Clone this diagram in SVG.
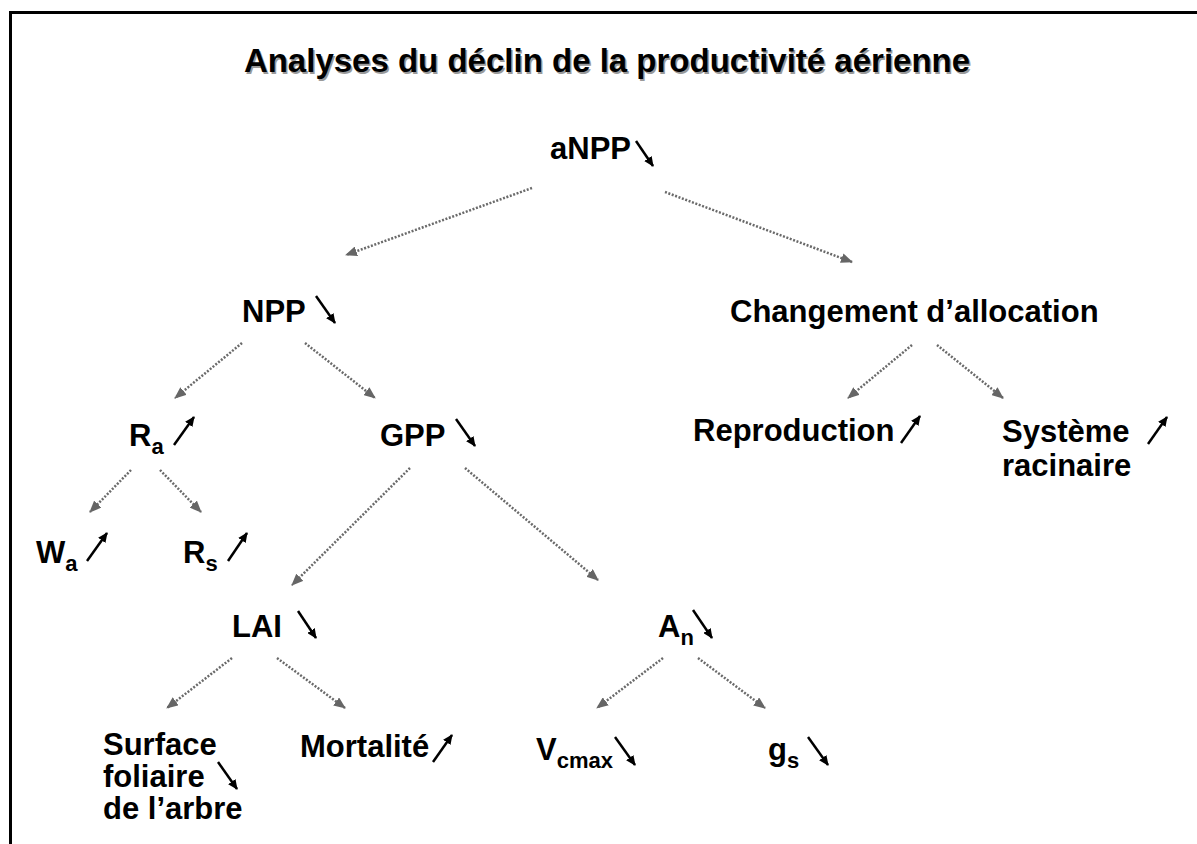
<svg xmlns="http://www.w3.org/2000/svg" width="1197" height="844" viewBox="0 0 1197 844">
<defs>
<marker id="gh" markerUnits="userSpaceOnUse" markerWidth="12" markerHeight="10" refX="11" refY="5" orient="auto">
<path d="M0,0 L12,5 L0,10 z" fill="#666"/>
</marker>
<marker id="bh" markerUnits="userSpaceOnUse" markerWidth="10" markerHeight="9" refX="9" refY="4.5" orient="auto">
<path d="M0,0 L10,4.5 L0,9 z" fill="#000"/>
</marker>
<style>
text{font-family:"Liberation Sans",Arial,sans-serif;font-weight:bold;fill:#000}
.t{font-size:33px}
.sh{fill:#9a9a9a}
.n{font-size:31px}
.s{font-size:22px}
.c{stroke:#6a6a6a;stroke-width:2.5;stroke-dasharray:2 1.6;fill:none;marker-end:url(#gh)}
.a{stroke:#000;stroke-width:2.5;fill:none;marker-end:url(#bh)}
</style>
</defs>
<rect width="1197" height="844" fill="#fff"/>
<path d="M10.5,844 V12.5 H1197" fill="none" stroke="#000" stroke-width="3"/>
<g id="title">
<text class="t sh" x="608.5" y="73.5" text-anchor="middle">Analyses du déclin de la productivité aérienne</text>
<text class="t" x="607" y="72" text-anchor="middle">Analyses du déclin de la productivité aérienne</text>
</g>
<g id="connectors">
<line class="c" x1="532" y1="188" x2="346" y2="255"/>
<line class="c" x1="665" y1="192" x2="852" y2="262"/>
<line class="c" x1="242" y1="343" x2="175" y2="398"/>
<line class="c" x1="305" y1="343" x2="375" y2="398"/>
<line class="c" x1="912" y1="345" x2="848" y2="398"/>
<line class="c" x1="937" y1="345" x2="1003" y2="398"/>
<line class="c" x1="131" y1="470" x2="90" y2="512"/>
<line class="c" x1="160" y1="470" x2="201" y2="512"/>
<line class="c" x1="410" y1="468" x2="292" y2="585"/>
<line class="c" x1="465" y1="468" x2="598" y2="580"/>
<line class="c" x1="232" y1="658" x2="167" y2="708"/>
<line class="c" x1="277" y1="658" x2="345" y2="708"/>
<line class="c" x1="663" y1="658" x2="597" y2="708"/>
<line class="c" x1="698" y1="658" x2="765" y2="708"/>
</g>
<g id="aNPP">
<text class="n" x="550" y="159">aNPP</text>
<line class="a" x1="636" y1="141" x2="653" y2="166"/>
</g>
<g id="NPP">
<text class="n" x="242" y="322">NPP</text>
<line class="a" x1="316" y1="296" x2="335" y2="323"/>
</g>
<g id="changement">
<text class="n" x="730" y="322">Changement d’allocation</text>
</g>
<g id="Ra">
<text class="n" x="129" y="446">R<tspan class="s" dy="8">a</tspan></text>
<line class="a" x1="174" y1="445" x2="194" y2="417"/>
</g>
<g id="GPP">
<text class="n" x="380" y="446">GPP</text>
<line class="a" x1="456" y1="419" x2="475" y2="446"/>
</g>
<g id="reproduction">
<text class="n" x="693" y="441">Reproduction</text>
<line class="a" x1="901" y1="443" x2="920" y2="416"/>
</g>
<g id="systeme">
<text class="n" x="1002" y="442">Système</text>
<text class="n" x="1002" y="476">racinaire</text>
<line class="a" x1="1148" y1="444" x2="1167" y2="417"/>
</g>
<g id="Wa">
<text class="n" x="36" y="563">W<tspan class="s" dy="8">a</tspan></text>
<line class="a" x1="87" y1="561" x2="107" y2="533"/>
</g>
<g id="Rs">
<text class="n" x="183" y="563">R<tspan class="s" dy="8">s</tspan></text>
<line class="a" x1="228" y1="561" x2="247" y2="533"/>
</g>
<g id="LAI">
<text class="n" x="232" y="637">LAI</text>
<line class="a" x1="298" y1="611" x2="316" y2="638"/>
</g>
<g id="An">
<text class="n" x="658" y="637">A<tspan class="s" dy="8">n</tspan></text>
<line class="a" x1="693" y1="610" x2="712" y2="638"/>
</g>
<g id="surface">
<text class="n" x="103" y="755">Surface</text>
<text class="n" x="103" y="787">foliaire</text>
<text class="n" x="103" y="819">de l’arbre</text>
<line class="a" x1="218" y1="762" x2="237" y2="789"/>
</g>
<g id="mortalite">
<text class="n" x="300" y="757">Mortalité</text>
<line class="a" x1="433" y1="762" x2="452" y2="735"/>
</g>
<g id="Vcmax">
<text class="n" x="536" y="760">V<tspan class="s" dy="8">cmax</tspan></text>
<line class="a" x1="615" y1="737" x2="635" y2="765"/>
</g>
<g id="gs">
<text class="n" x="768" y="760">g<tspan class="s" dy="8">s</tspan></text>
<line class="a" x1="808" y1="737" x2="828" y2="765"/>
</g>
</svg>
